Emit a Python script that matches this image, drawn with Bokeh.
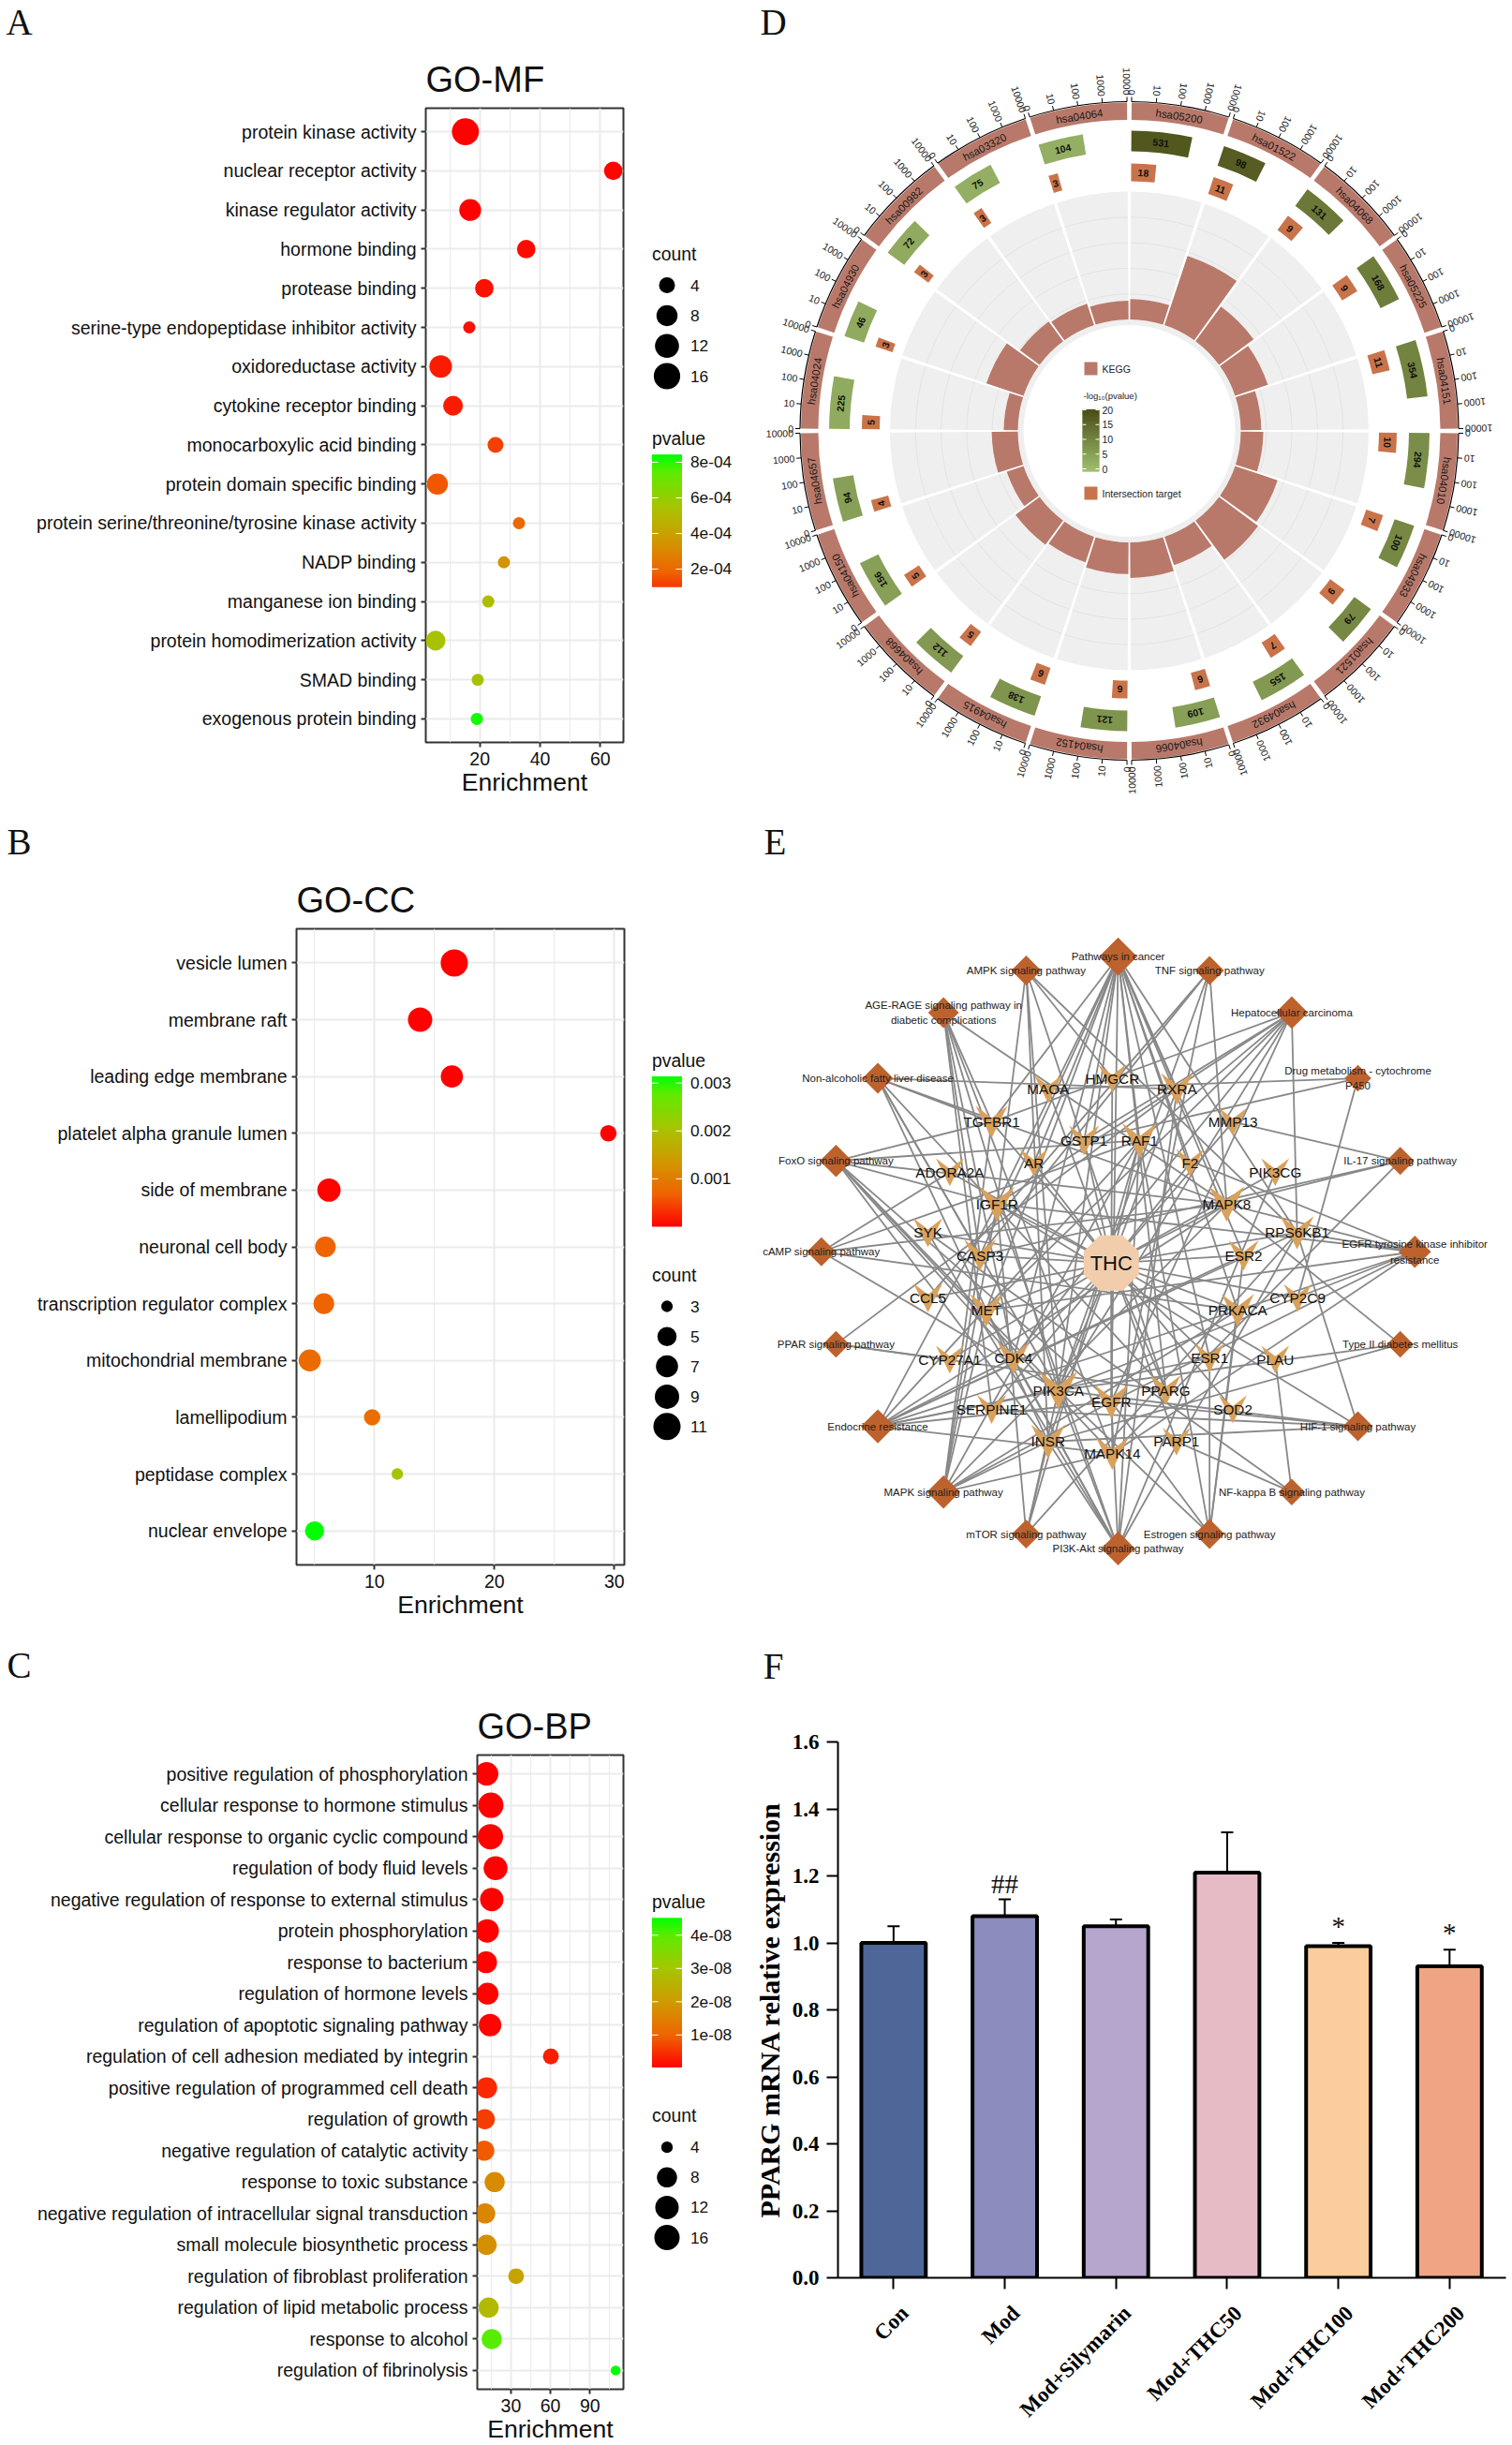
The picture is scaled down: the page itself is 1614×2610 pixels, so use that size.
import numpy as np
from bokeh.plotting import figure
from bokeh.layouts import row, column
from bokeh.models import Range1d, FactorRange, FixedTicker, LinearAxis, ColumnDataSource
from bokeh.core.properties import value
from bokeh.embed import file_html
from bokeh.resources import INLINE

# ---------- data: GO panels ----------
mf_terms = ["protein kinase activity", "nuclear receptor activity", "kinase regulator activity", "hormone binding",
            "protease binding", "serine-type endopeptidase inhibitor activity", "oxidoreductase activity",
            "cytokine receptor binding", "monocarboxylic acid binding", "protein domain specific binding",
            "protein serine/threonine/tyrosine kinase activity", "NADP binding", "manganese ion binding",
            "protein homodimerization activity", "SMAD binding", "exogenous protein binding"]
mf_enrich = [15.2, 64.3, 16.8, 35.4, 21.5, 16.5, 7.0, 11.1, 25.2, 5.9, 33.0, 28.0, 22.8, 5.3, 19.3, 19.0]
mf_count = [17, 6, 9, 6, 6, 3, 10, 7, 4, 8, 3, 3, 3, 7, 3, 3]
mf_p = [1e-6, 1e-5, 1e-6, 2e-5, 3e-5, 3e-5, 5e-5, 5e-5, 1.2e-4, 1.6e-4, 2e-4, 3.5e-4, 5.2e-4, 5.4e-4, 5.4e-4, 8.2e-4]

cc_terms = ["vesicle lumen", "membrane raft", "leading edge membrane", "platelet alpha granule lumen",
            "side of membrane", "neuronal cell body", "transcription regulator complex", "mitochondrial membrane",
            "lamellipodium", "peptidase complex", "nuclear envelope"]
cc_enrich = [16.65, 13.8, 16.45, 29.5, 6.2, 5.9, 5.77, 4.6, 9.8, 11.9, 5.0]
cc_count = [11, 9, 7, 4, 8, 6, 6, 7, 4, 3, 5]
cc_p = [1e-5, 1e-5, 1e-5, 1e-5, 3e-5, 6.9e-4, 7e-4, 7.8e-4, 8e-4, 2.06e-3, 3.13e-3]

bp_terms = ["positive regulation of phosphorylation", "cellular response to hormone stimulus",
            "cellular response to organic cyclic compound", "regulation of body fluid levels",
            "negative regulation of response to external stimulus", "protein phosphorylation",
            "response to bacterium", "regulation of hormone levels", "regulation of apoptotic signaling pathway",
            "regulation of cell adhesion mediated by integrin", "positive regulation of programmed cell death",
            "regulation of growth", "negative regulation of catalytic activity", "response to toxic substance",
            "negative regulation of intracellular signal transduction", "small molecule biosynthetic process",
            "regulation of fibroblast proliferation", "regulation of lipid metabolic process",
            "response to alcohol", "regulation of fibrinolysis"]
bp_enrich = [11.5, 14.7, 14.4, 18.3, 15.4, 11.9, 11.1, 12.2, 14.1, 60.3, 11.5, 10.1, 9.7, 17.6, 10.4, 11.5, 33.9, 13.0, 15.4, 109.5]
bp_count = [12, 16, 16, 13, 12, 12, 10, 10, 11, 6, 9, 8, 8, 8, 8, 8, 6, 8, 8, 3]
bp_p = [1e-10, 1e-10, 1e-10, 1e-10, 1e-10, 2e-10, 3e-10, 4e-10, 5e-10, 3e-9, 4e-9, 6e-9, 9e-9, 1.7e-8, 1.6e-8, 1.8e-8, 2.2e-8, 2.7e-8, 4e-8, 4.5e-8]

# ---------- data: circular panel ----------
kegg_ids = ["hsa05200", "hsa01522", "hsa04068", "hsa05225", "hsa04151", "hsa04010", "hsa04933", "hsa01521", "hsa04932", "hsa04066",
            "hsa04152", "hsa04915", "hsa04668", "hsa04150", "hsa04657", "hsa04024", "hsa04930", "hsa00982", "hsa03320", "hsa04064"]
kegg_total = [531, 98, 131, 168, 354, 294, 100, 79, 155, 109, 121, 138, 112, 156, 94, 225, 46, 72, 75, 104]
kegg_hits = [18, 11, 9, 9, 11, 10, 7, 9, 7, 6, 6, 6, 5, 5, 4, 5, 3, 3, 3, 3]
kegg_logp = [19, 18, 13, 12, 11, 9, 10, 10, 7, 6, 8, 8, 7, 6, 6, 4, 4, 4, 3, 3]
kegg_rich = [0.80, 2.85, 1.68, 1.35, 0.80, 0.88, 1.75, 1.90, 1.17, 1.39, 1.24, 1.06, 1.17, 0.69, 1.02, 0.55, 1.53, 0.95, 0.88, 0.73]
axis_ticks = [0, 10, 100, 1000, 10000]

# ---------- data: network ----------
pathways = ["Pathways in cancer", "TNF signaling pathway", "Hepatocellular carcinoma", "Drug metabolism - cytochrome\nP450",
            "IL-17 signaling pathway", "EGFR tyrosine kinase inhibitor\nresistance", "Type II diabetes mellitus",
            "HIF-1 signaling pathway", "NF-kappa B signaling pathway", "Estrogen signaling pathway",
            "PI3K-Akt signaling pathway", "mTOR signaling pathway", "MAPK signaling pathway", "Endocrine resistance",
            "PPAR signaling pathway", "cAMP signaling pathway", "FoxO signaling pathway",
            "Non-alcoholic fatty liver disease", "AGE-RAGE signaling pathway in\ndiabetic complications", "AMPK signaling pathway"]
pathway_x = [757, 945, 1114, 1250, 1337, 1367, 1337, 1250, 1114, 945, 757, 568, 398, 263, 177, 147, 177, 263, 398, 568]
pathway_y = [275, 302, 384, 512, 673, 850, 1030, 1190, 1318, 1400, 1428, 1400, 1318, 1190, 1030, 850, 673, 512, 384, 302]
pathway_degree = [18, 5, 9, 3, 4, 9, 3, 6, 3, 6, 11, 5, 10, 11, 3, 5, 9, 7, 7, 6]
targets = ["MAOA", "HMGCR", "RXRA", "TGFBR1", "GSTP1", "RAF1", "MMP13", "ADORA2A", "AR", "F2", "PIK3CG", "IGF1R", "MAPK8",
           "SYK", "RPS6KB1", "CASP3", "ESR2", "CCL5", "CYP2C9", "MET", "PRKACA", "CYP27A1", "CDK4", "ESR1", "PLAU",
           "PIK3CA", "PPARG", "EGFR", "SERPINE1", "SOD2", "INSR", "PARP1", "MAPK14"]
target_x = [613, 745, 878, 497, 687, 801, 993, 411, 584, 905, 1080, 508, 980, 366, 1125, 473, 1015, 366, 1126, 486, 1003, 411, 542, 945, 1080, 634, 855, 743, 497, 993, 613, 877, 745]
target_y = [533, 512, 533, 597, 633, 633, 597, 695, 677, 677, 695, 757, 757, 813, 813, 857, 857, 940, 940, 964, 964, 1060, 1057, 1057, 1060, 1120, 1120, 1142, 1157, 1157, 1220, 1220, 1243]
target_degree = [2, 2, 6, 6, 4, 10, 2, 2, 2, 2, 2, 11, 11, 3, 8, 6, 4, 3, 2, 7, 7, 2, 6, 3, 2, 16, 4, 9, 3, 2, 9, 2, 7]
links = [
    ["PIK3CA", "EGFR", "MET", "IGF1R", "RAF1", "MAPK8", "CASP3", "CDK4", "RXRA", "PPARG", "AR", "ESR1", "ESR2", "TGFBR1", "F2", "GSTP1", "PRKACA", "RPS6KB1"],
    ["PIK3CA", "MAPK8", "MAPK14", "CASP3", "CCL5"],
    ["PIK3CA", "EGFR", "MET", "IGF1R", "RAF1", "CDK4", "TGFBR1", "GSTP1", "RPS6KB1"],
    ["GSTP1", "MAOA", "CYP2C9"],
    ["MAPK8", "MAPK14", "CASP3", "MMP13"],
    ["PIK3CA", "EGFR", "MET", "IGF1R", "RAF1", "RPS6KB1", "MAPK8", "PRKACA", "MAPK14"],
    ["INSR", "MAPK8", "PIK3CA"],
    ["PIK3CA", "EGFR", "IGF1R", "INSR", "SERPINE1", "RPS6KB1"],
    ["PLAU", "SYK", "PARP1"],
    ["PIK3CA", "EGFR", "RAF1", "ESR1", "ESR2", "PRKACA"],
    ["PIK3CA", "EGFR", "MET", "IGF1R", "RAF1", "INSR", "CDK4", "SYK", "RXRA", "RPS6KB1", "PIK3CG"],
    ["PIK3CA", "IGF1R", "INSR", "RAF1", "RPS6KB1"],
    ["EGFR", "MET", "IGF1R", "INSR", "RAF1", "MAPK8", "MAPK14", "CASP3", "TGFBR1", "PRKACA"],
    ["PIK3CA", "EGFR", "IGF1R", "RAF1", "MAPK8", "MAPK14", "ESR1", "ESR2", "CDK4", "RPS6KB1", "PRKACA"],
    ["CYP27A1", "RXRA", "PPARG"],
    ["PIK3CA", "PRKACA", "RAF1", "MAPK8", "ADORA2A"],
    ["PIK3CA", "EGFR", "IGF1R", "INSR", "RAF1", "MAPK8", "MAPK14", "TGFBR1", "CDK4"],
    ["PIK3CA", "INSR", "MAPK8", "CASP3", "RXRA", "TGFBR1", "PPARG"],
    ["PIK3CA", "MAPK8", "MAPK14", "CASP3", "TGFBR1", "SERPINE1", "CDK4"],
    ["PIK3CA", "IGF1R", "INSR", "HMGCR", "RPS6KB1", "PPARG"],
]

# ---------- data: bars ----------
groups = ["Con", "Mod", "Mod+Silymarin", "Mod+THC50", "Mod+THC100", "Mod+THC200"]
expr_mean = [1.00, 1.08, 1.05, 1.21, 0.99, 0.93]
expr_err = [0.05, 0.05, 0.02, 0.12, 0.01, 0.05]
bar_colors = ["#4F6699", "#8C8CBE", "#B6A6CE", "#E7BBC6", "#FBCD9C", "#EFA583"]
sig_labels = ["", "##", "", "", "*", "*"]

SANS = "Liberation Sans"
SERIF = "Liberation Serif"

RG_T = [0, .22, .44, .66, .88, 1]
RG = [(255, 0, 0), (239, 100, 0), (207, 154, 0), (166, 197, 0), (95, 234, 0), (0, 255, 0)]
GR_T = [0, 1]
GR = [(160, 192, 112), (78, 81, 25)]


def ramp(t, stops_t, stops):
    t = float(np.clip(t, 0, 1))
    return "#%02x%02x%02x" % tuple(int(round(np.interp(t, stops_t, [s[i] for s in stops]))) for i in range(3))


def canvas(X0, X1, Y0, Y1):
    p = figure(width=X1 - X0, height=Y1 - Y0, x_range=Range1d(X0, X1), y_range=Range1d(Y1, Y0), output_backend="svg",
               toolbar_location=None, x_axis_location=None, y_axis_location=None, min_border=0,
               outline_line_color=None, border_fill_color=None, background_fill_color=None)
    p.grid.visible = False
    return p


def strip(ch, X, Y, box):
    p = canvas(*box)
    p.text([X], [Y], text=[ch], text_font=value(SERIF), text_font_size="39px", text_align="center",
           text_baseline="middle", text_color="#111111")
    return p


def go_panel(title, terms, enrich, count, pv, pmax, sizes, ticks, minor, x0, xs, box, fig_box,
             standoff=5, lab_standoff=0, title_standoff=20):
    fl, fr, ft, fb = box
    X0, X1, Y0, Y1 = fig_box
    xr = Range1d((fl - x0) / xs, (fr - x0) / xs)
    yr = FactorRange(factors=terms[::-1], range_padding=0.1, range_padding_units="absolute")
    p = figure(width=X1 - X0, height=Y1 - Y0, x_range=xr, y_range=yr, output_backend="svg", toolbar_location=None,
               min_border_left=fl - X0, min_border_right=X1 - fr, min_border_top=ft - Y0, min_border_bottom=Y1 - fb,
               background_fill_color="white", border_fill_color=None)
    p.title.text = title
    p.title.text_font = SANS
    p.title.text_font_size = "38px"
    p.title.text_font_style = "normal"
    p.title.text_color = "#111111"
    p.title.standoff = title_standoff
    p.outline_line_color = "#333333"
    p.outline_line_width = 2
    for ax in (p.xaxis[0], p.yaxis[0]):
        ax.axis_line_color = None
        ax.major_tick_line_color = "#333333"
        ax.major_tick_line_width = 2
        ax.major_tick_out = 5
        ax.major_tick_in = 0
        ax.minor_tick_line_color = None
        ax.major_label_text_font = SANS
        ax.major_label_text_font_size = "19.5px"
        ax.major_label_text_color = "#111111"
    p.xaxis[0].major_label_standoff = standoff
    p.yaxis[0].major_label_standoff = 5
    p.xaxis[0].ticker = FixedTicker(ticks=ticks, minor_ticks=minor)
    p.xaxis[0].axis_label = "Enrichment"
    p.xaxis[0].axis_label_text_font = SANS
    p.xaxis[0].axis_label_text_font_size = "26.6px"
    p.xaxis[0].axis_label_text_font_style = "normal"
    p.xaxis[0].axis_label_text_color = "#111111"
    p.xaxis[0].axis_label_standoff = lab_standoff
    p.xgrid.grid_line_color = "#ebebeb"
    p.xgrid.grid_line_width = 2
    p.xgrid.minor_grid_line_color = "#ebebeb"
    p.xgrid.minor_grid_line_width = 1
    p.ygrid.grid_line_color = "#ebebeb"
    p.ygrid.grid_line_width = 2
    sz = np.interp(count, sizes[0], sizes[1])
    src = ColumnDataSource(dict(x=enrich, y=terms, s=sz, c=[ramp(v / pmax, RG_T, RG) for v in pv]))
    p.scatter("x", "y", size="s", fill_color="c", line_color=None, source=src)
    return p


def go_legend(fig_box, count_title_y, count_labels, sizes, count_ys, bar_title_y, bar_top, bar_bot, bar_lo, bar_hi, tick_vals, tick_text):
    p = canvas(*fig_box)
    lx, rx = 695.5, 727.5
    n = 80
    edges = np.linspace(bar_lo, bar_hi, n + 1)
    to_y = lambda v: bar_bot + (np.asarray(v) - bar_lo) / (bar_hi - bar_lo) * (bar_top - bar_bot)
    upper = to_y(edges[1:]) - 2.0
    upper[-1] = bar_top
    p.quad(left=lx, right=rx, bottom=to_y(edges[:-1]), top=upper,
           fill_color=[ramp(.5 * (a + b) / bar_hi, RG_T, RG) for a, b in zip(edges[:-1], edges[1:])],
           line_color=None)
    ty = to_y(tick_vals)
    p.segment(lx, ty, lx + 6.5, ty, line_color="white", line_width=1)
    p.segment(rx - 6.5, ty, rx, ty, line_color="white", line_width=1)
    tf = dict(text_font=value(SANS), text_font_size="17.3px", text_baseline="middle", text_color="#111111")
    p.text(736.5, ty, text=tick_text, **tf)
    p.text(lx, [bar_title_y], text=["pvalue"], text_font=value(SANS), text_font_size="19.4px", text_baseline="middle", text_color="#111111")
    p.text(lx, [count_title_y], text=["count"], text_font=value(SANS), text_font_size="19.4px", text_baseline="middle", text_color="#111111")
    p.scatter(711.5, count_ys, size=np.interp(count_labels, sizes[0], sizes[1]), fill_color="black", line_color=None)
    p.text(736.5, count_ys, text=[str(c) for c in count_labels], **tf)
    return p


sizes_a = ([3, 4, 8, 12, 16, 18], [13, 17, 22.5, 25.6, 28.2, 29.5])
sizes_b = ([3, 4, 5, 7, 9, 11], [12.3, 17.5, 20.5, 23.6, 26, 29])
sizes_c = ([3, 4, 8, 12, 16], [10.5, 12.3, 21.5, 25, 27])

sA = strip("A", 20, 23, (0, 690, 0, 44))
pA = go_panel("GO-MF", mf_terms, mf_enrich, mf_count, mf_p, 8.4e-4, sizes_a, [20, 40, 60], [10, 30, 50],
              447.4, 3.215, (454, 665, 115, 792), (0, 690, 44, 870))
lA = go_legend((690, 790, 0, 870), 270.7, [4, 8, 12, 16], sizes_a, [304, 336.4, 368.8, 401], 467.4, 485, 626.3, 0.984e-4, 8.42e-4,
               [2e-4, 4e-4, 6e-4, 8e-4], ["2e-04", "4e-04", "6e-04", "8e-04"])
sB = strip("B", 20, 898, (0, 690, 870, 924))
pB = go_panel("GO-CC", cc_terms, cc_enrich, cc_count, cc_p, 3.13e-3, sizes_b, [10, 20, 30], [5, 15, 25],
              271.3, 12.8, (316, 666, 991, 1670), (0, 690, 924, 1750))
lB = go_legend((690, 790, 870, 1750), 1360.5, [3, 5, 7, 9, 11], sizes_b, [1394, 1426.3, 1458, 1490.4, 1522.2], 1131, 1148.5, 1309, 0.0, 3.14e-3,
               [1e-3, 2e-3, 3e-3], ["0.001", "0.002", "0.003"])
sC = strip("C", 20, 1777, (0, 690, 1750, 1800))
pC = go_panel("GO-BP", bp_terms, bp_enrich, bp_count, bp_p, 4.5e-8, sizes_c, [30, 60, 90], [15, 45, 75, 105],
              502.8, 1.405, (509, 665, 1873, 2551), (0, 690, 1800, 2610))
lC = go_legend((690, 790, 1750, 2610), 2257.4, [4, 8, 12, 16], sizes_c, [2291.7, 2323.8, 2355.9, 2388], 2029, 2047, 2206.6, 0.02e-8, 4.515e-8,
               [1e-8, 2e-8, 3e-8, 4e-8], ["1e-08", "2e-08", "3e-08", "4e-08"])


# ---------- circular panel ----------
def circ_panel():
    X0, X1, Y0, Y1 = 790, 1614, 0, 870
    CX, CY = 1205, 459.5
    p = figure(width=X1 - X0, height=Y1 - Y0, x_range=Range1d(X0 - CX, X1 - CX), y_range=Range1d(CY - Y1, CY - Y0),
               output_backend="svg", toolbar_location=None, x_axis_location=None, y_axis_location=None, min_border=0,
               outline_line_color=None, border_fill_color=None, background_fill_color=None)
    p.grid.visible = False
    fx = lambda X: np.asarray(X, float) - CX
    fy = lambda Y: CY - np.asarray(Y, float)
    n = len(kegg_ids)
    sec = 360.0 / n
    gap = 0.8
    span = sec - gap
    starts = np.arange(n) * sec + gap / 2
    ends = starts + span
    rad = np.deg2rad
    KEGG, TGT = "#B9796A", "#C9734A"

    def wedge(r0, r1, a0, a1, color):
        p.annular_wedge(0, 0, inner_radius=r0, outer_radius=r1, start_angle=rad(90 - np.asarray(a1)), end_angle=rad(90 - np.asarray(a0)),
                        fill_color=color, line_color=None)

    p.annular_wedge(0, 0, inner_radius=113, outer_radius=119, start_angle=0, end_angle=2 * np.pi, fill_color="#EFEFEF", line_color=None)
    wedge(119, 255.5, starts, ends, "#EFEFEF")
    for k in range(1, 5):
        p.arc(0, 0, radius=119 + k * 27.3, start_angle=rad(90 - ends), end_angle=rad(90 - starts), line_color="#E3E3E3", line_width=1)
    wedge(119, 119 + np.asarray(kegg_rich) * 27.3, starts, ends, KEGG)
    wedge(332, 350.5, starts, ends, KEGG)
    mid = starts + span / 2

    def place(r, a):
        return r * np.sin(rad(a)), r * np.cos(rad(a))
    lx, ly = place(340, mid)
    p.text(lx, ly, text=kegg_ids, angle=rad(-mid), text_font=value(SANS), text_font_size="11.5px", text_align="center",
           text_baseline="middle", text_color="#1a1a1a")
    f = lambda v: np.log10(np.asarray(v, float)) / 4.0 * span
    tot_end = starts + f(kegg_total)
    hit_end = starts + f(kegg_hits)
    wedge(298.5, 320.5, starts, tot_end, [ramp(v / 20, GR_T, GR) for v in kegg_logp])
    wedge(266.5, 285.5, starts, hit_end, TGT)
    a = (starts + tot_end) / 2
    lx, ly = place(309.5, a)
    p.text(lx, ly, text=[str(v) for v in kegg_total], angle=rad(-a), text_font=value(SANS), text_font_size="10.5px", text_font_style="bold",
           text_align="center", text_baseline="middle", text_color="#111111")
    a = (starts + hit_end) / 2
    lx, ly = place(276, a)
    p.text(lx, ly, text=[str(v) for v in kegg_hits], angle=rad(-a), text_font=value(SANS), text_font_size="10.5px", text_font_style="bold",
           text_align="center", text_baseline="middle", text_color="#111111")
    p.arc(0, 0, radius=351.5, start_angle=rad(90 - ends), end_angle=rad(90 - starts), line_color="black", line_width=1.2)
    tk_a, tk_t = [], []
    for s in starts:
        for i, t in enumerate(axis_ticks):
            tk_a.append(s + i / (len(axis_ticks) - 1) * span)
            tk_t.append(str(t))
    tk_a = np.array(tk_a)
    x0, y0 = place(351.5, tk_a)
    x1, y1 = place(356.5, tk_a)
    p.segment(x0, y0, x1, y1, line_color="black", line_width=1)
    x2, y2 = place(358.5, tk_a)
    p.text(x2, y2, text=tk_t, angle=rad(270 - tk_a), text_font=value(SANS), text_font_size="10.5px", text_align="right",
           text_baseline="middle", text_color="#222222")
    tf = dict(text_font=value(SANS), text_font_size="10.5px", text_baseline="middle", text_color="#222222")
    p.quad(left=fx(1157), right=fx(1171), top=fy(386), bottom=fy(400), fill_color=KEGG, line_color=None)
    p.text(fx(1176), fy(393), text=["KEGG"], **tf)
    p.text(fx(1156), fy(422), text=["-log\u2081\u2080(pvalue)"], text_font=value(SANS), text_font_size="9.5px", text_baseline="middle", text_color="#222222")
    lg = np.linspace(0, 20.9, 50)
    to_y = lambda v: fy(500) + np.asarray(v) * 3.15
    p.quad(left=fx(1155), right=fx(1173), bottom=to_y(lg[:-1] - 1), top=to_y(lg[1:] - 1 + .3),
           fill_color=[ramp(v / 20, GR_T, GR) for v in lg[:-1]], line_color=None)
    t_v = [0, 5, 10, 15, 20]
    p.segment(fx(1155), to_y(t_v), fx(1159), to_y(t_v), line_color="white", line_width=1)
    p.segment(fx(1169), to_y(t_v), fx(1173), to_y(t_v), line_color="white", line_width=1)
    p.text(fx(1176), to_y(t_v), text=[str(v) for v in t_v], **tf)
    p.quad(left=fx(1157), right=fx(1171), top=fy(519), bottom=fy(533), fill_color=TGT, line_color=None)
    p.text(fx(1176), fy(526), text=["Intersection target"], **tf)
    p.text(fx(825), fy(23), text=["D"], text_font=value(SERIF), text_font_size="39px", text_align="center", text_baseline="middle", text_color="#111111")
    return p


# ---------- network panel ----------
def net_panel():
    X0, X1, Y0, Y1 = 790, 1614, 870, 1750
    kx, ky = 1.926, 1.825
    p = figure(width=X1 - X0, height=Y1 - Y0, x_range=Range1d((X0 - 800) * kx, (X1 - 800) * kx), y_range=Range1d((Y1 - 870) * ky, (Y0 - 870) * ky),
               output_backend="svg", toolbar_location=None, x_axis_location=None, y_axis_location=None, min_border=0,
               outline_line_color=None, border_fill_color=None, background_fill_color=None)
    p.grid.visible = False
    hubx, huby = 743, 872
    tpos = {t: (x, y) for t, x, y in zip(targets, target_x, target_y)}
    ex0, ey0, ex1, ey1 = [], [], [], []
    for t in targets:
        ex0.append(hubx); ey0.append(huby); ex1.append(tpos[t][0]); ey1.append(tpos[t][1])
    for px_, py_, ls in zip(pathway_x, pathway_y, links):
        for t in ls:
            ex0.append(px_); ey0.append(py_); ex1.append(tpos[t][0]); ey1.append(tpos[t][1])
    p.segment(ex0, ey0, ex1, ey1, line_color="#888888", line_width=1.8)
    ang = np.deg2rad(np.arange(8) * 45 + 22.5)
    p.patch(hubx + 29.5 * kx / np.cos(np.deg2rad(22.5)) * np.cos(ang), huby + 29.5 * ky / np.cos(np.deg2rad(22.5)) * np.sin(ang),
            fill_color="#F2CDAB", line_color=None)
    w = 46 + np.sqrt(np.asarray(target_degree, float)) * 8
    shape_x = np.array([-.5, 0, .5, 0])
    shape_y = np.array([-.5, -.12, -.5, .5])
    xs = [x + sw * shape_x for x, sw in zip(target_x, w)]
    ys = [y + sw * shape_y * ky / kx for y, sw in zip(target_y, w)]
    p.patches(xs, ys, fill_color="#D9A15C", line_color=None)
    d = 20 + np.sqrt(np.asarray(pathway_degree, float)) * 4.9
    p.scatter(pathway_x, pathway_y, marker="square", size=d / np.sqrt(2), angle=np.pi / 4, fill_color="#BE622D", line_color=None)
    p.text(target_x, target_y, text=targets, text_font=value(SANS), text_font_size="15.3px", text_align="center", text_baseline="middle", text_color="#111111")
    p.text(pathway_x, pathway_y, text=pathways, text_font=value(SANS), text_font_size="11.5px", text_align="center", text_baseline="middle",
           text_color="#222222", text_line_height=1.38)
    p.text([hubx], [huby], text=["THC"], text_font=value(SANS), text_font_size="22px", text_align="center", text_baseline="middle", text_color="#111111")
    p.text([52], [52], text=["E"], text_font=value(SERIF), text_font_size="39px", text_align="center", text_baseline="middle", text_color="#111111")
    return p


# ---------- bar panel ----------
def bar_panel():
    X0, X1, Y0, Y1 = 790, 1614, 1800, 2610
    fl, fr, ft, fb = 894, 1607, 1859, 2431
    sp = 118.7
    pos = np.arange(len(groups)) + 0.5
    p = figure(width=X1 - X0, height=Y1 - Y0, x_range=Range1d(0, (fr - fl) / sp), y_range=Range1d(0, 1.6), output_backend="svg", toolbar_location=None,
               min_border_left=fl - X0, min_border_right=X1 - fr, min_border_top=ft - Y0, min_border_bottom=Y1 - fb,
               outline_line_color=None, border_fill_color=None, background_fill_color=None)
    p.grid.visible = False
    p.vbar(x=pos, top=expr_mean, width=0.58, fill_color=bar_colors, line_color="black", line_width=4)
    tops = np.array(expr_mean) + np.array(expr_err)
    p.segment(pos, expr_mean, pos, tops, line_color="black", line_width=2)
    p.scatter(pos, tops, marker="dash", size=13, line_color="black", line_width=2)
    idx = [i for i, s in enumerate(sig_labels) if s]
    p.text(pos[idx], [tops[i] + (0.045 if sig_labels[i] == "##" else 0.05) for i in idx], text=[sig_labels[i] for i in idx],
           text_font=value(SERIF), text_font_size="29px", text_align="center", text_baseline="middle", text_color="#111111")
    for ax in (p.xaxis[0], p.yaxis[0]):
        ax.axis_line_color = "black"
        ax.axis_line_width = 2
        ax.major_tick_line_color = "black"
        ax.major_tick_line_width = 2
        ax.major_tick_out = 12
        ax.major_tick_in = 0
        ax.minor_tick_line_color = None
        ax.major_label_text_font = SERIF
        ax.major_label_text_font_size = "23px"
        ax.major_label_text_font_style = "bold"
        ax.major_label_text_color = "black"
    p.yaxis[0].ticker = FixedTicker(ticks=[0, .2, .4, .6, .8, 1.0, 1.2, 1.4, 1.6])
    p.yaxis[0].major_label_overrides = {0: "0.0", 1: "1.0"}
    p.yaxis[0].major_label_standoff = 8
    p.yaxis[0].axis_label = "PPARG mRNA relative expression"
    p.yaxis[0].axis_label_text_font = SERIF
    p.yaxis[0].axis_label_text_font_size = "30px"
    p.yaxis[0].axis_label_text_font_style = "bold"
    p.yaxis[0].axis_label_text_color = "black"
    p.yaxis[0].axis_label_standoff = 5
    p.xaxis[0].ticker = FixedTicker(ticks=list(pos))
    p.xaxis[0].major_label_overrides = {float(a): "" for a in pos}
    p.xaxis[0].major_label_standoff = 0
    # tick labels sit a little to the right of their ticks: second axis on a shifted range
    shift = 12 / sp
    p.extra_x_ranges["labels"] = Range1d(-shift, (fr - fl) / sp - shift)
    lab = LinearAxis(x_range_name="labels", ticker=FixedTicker(ticks=list(pos)),
                     major_label_overrides={float(a): g for a, g in zip(pos, groups)},
                     axis_line_color=None, major_tick_line_color=None, minor_tick_line_color=None,
                     major_tick_out=0, major_tick_in=0, major_label_orientation=np.pi / 4, major_label_standoff=22,
                     major_label_text_font=SERIF, major_label_text_font_size="23px",
                     major_label_text_font_style="bold", major_label_text_color="black")
    p.add_layout(lab, "below")
    return p


left = column(
    row(column(row(sA), row(pA), spacing=0), column(lA), spacing=0),
    row(column(row(sB), row(pB), spacing=0), column(lB), spacing=0),
    row(column(row(sC), row(pC), spacing=0), column(lC), spacing=0), spacing=0)
right = column(row(circ_panel()), row(net_panel()), row(strip("F", 825, 1778, (790, 1614, 1750, 1800))), row(bar_panel()), spacing=0)
page = row(left, right, spacing=0)
open("out.html", "w").write(file_html(page, INLINE))
